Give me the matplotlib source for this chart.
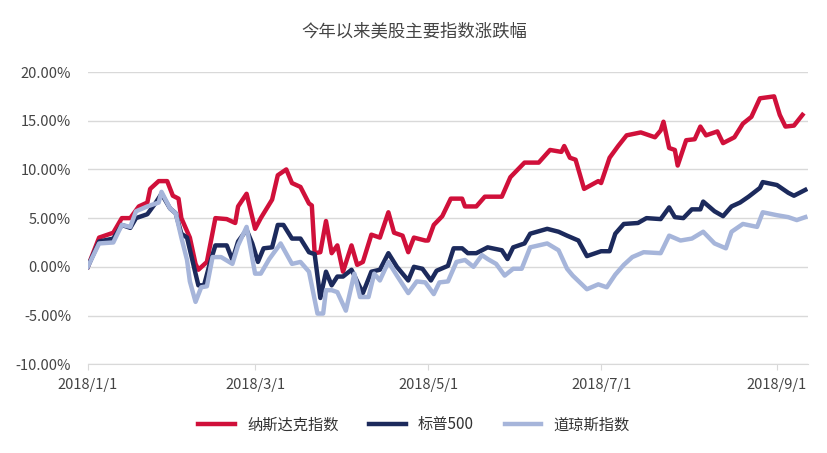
import matplotlib
matplotlib.use("Agg")
import matplotlib.pyplot as plt
import matplotlib.dates as mdates
import pandas as pd
import numpy as np

plt.rcParams["font.family"] = ["Noto Sans CJK SC", "DejaVu Sans"]

title = "今年以来美股主要指数涨跌幅"
names = ["纳斯达克指数", "标普500", "道琼斯指数"]
start = "2018-01-01"

# day offsets from 2018-01-01 and cumulative change (%)
nasdaq_days = [0,4,9,12,15,18,21,22,25,28,30,32,33,36,38,39,42,45,49,52,53,56,59,61,65,67,70,72,75,78,79,80,82,84,86,88,90,93,95,97,100,103,106,108,111,113,115,119,120,122,125,128,132,133,137,140,146,149,154,159,163,167,168,170,172,175,180,181,184,187,190,195,200,202,203,205,207,208,211,214,216,218,222,224,228,231,234,237,242,244,246,249,252]
nasdaq_vals = [0,3.0,3.5,5.0,5.0,6.2,6.6,8.0,8.8,8.8,7.3,7.0,5.0,3.0,0.3,-0.3,0.5,5.0,4.9,4.5,6.2,7.5,3.9,5.0,6.9,9.4,10.0,8.6,8.2,6.5,6.3,1.4,1.5,4.7,1.4,2.2,-0.5,2.2,0.2,0.5,3.3,3.0,5.6,3.5,3.2,1.5,3.0,2.7,2.7,4.3,5.2,7.0,7.0,6.2,6.2,7.2,7.2,9.2,10.7,10.7,12.0,11.8,12.4,11.2,11.0,8.0,8.8,8.6,11.2,12.4,13.5,13.8,13.3,14.0,14.9,12.2,12.0,10.4,13.0,13.1,14.4,13.5,13.9,12.7,13.3,14.7,15.4,17.3,17.5,15.6,14.4,14.5,15.6]

sp_days = [0,4,9,12,15,17,21,24,26,29,31,33,35,38,39,41,43,45,49,51,53,56,58,60,62,65,67,69,72,75,78,80,82,84,86,88,90,93,97,100,103,106,109,113,115,118,121,123,127,129,132,134,137,141,146,148,150,154,156,162,166,169,173,176,181,184,186,189,194,197,202,205,207,210,213,216,217,221,224,227,230,233,237,238,243,247,249,253]
sp_vals = [0,2.6,2.9,4.3,4.0,5.0,5.4,6.6,7.5,6.0,5.5,3.4,3.0,-0.7,-1.9,-1.9,0.3,2.2,2.2,0.7,2.6,3.8,2.4,0.5,1.9,2.0,4.3,4.3,2.9,2.9,1.5,1.3,-3.2,-0.5,-1.9,-1.0,-1.0,-0.3,-2.7,-0.5,-0.3,1.4,0.0,-1.4,0.0,-0.2,-1.4,-0.4,0.1,1.9,1.9,1.4,1.4,2.0,1.7,0.8,2.0,2.4,3.4,3.9,3.6,3.2,2.7,1.1,1.6,1.6,3.4,4.4,4.5,5.0,4.9,6.1,5.1,5.0,5.9,5.9,6.7,5.7,5.2,6.2,6.6,7.2,8.1,8.7,8.4,7.6,7.3,7.9]

dow_days = [0,4,9,12,15,17,21,25,26,29,31,33,35,36,38,40,42,44,47,51,53,56,59,61,64,68,72,75,78,81,83,84,86,88,91,94,96,99,101,103,106,109,113,116,119,122,124,127,130,133,136,139,141,144,147,150,153,156,162,166,169,171,176,180,183,186,189,192,196,202,205,209,213,217,221,225,227,231,236,238,243,247,250,253]
dow_vals = [0,2.4,2.5,4.3,4.1,5.7,6.2,6.6,7.7,6.0,5.5,3.0,0.7,-1.5,-3.6,-2.1,-2.0,1.0,1.0,0.3,2.2,4.1,-0.7,-0.7,0.8,2.4,0.3,0.5,-0.5,-4.8,-4.8,-2.4,-2.4,-2.6,-4.5,-0.7,-3.1,-3.1,-0.7,-1.4,0.5,-0.9,-2.7,-1.5,-1.6,-2.8,-1.6,-1.5,0.5,0.7,0.0,1.2,0.8,0.3,-0.9,-0.2,-0.2,2.0,2.4,1.7,-0.2,-0.9,-2.3,-1.8,-2.1,-0.8,0.2,1.0,1.5,1.4,3.2,2.7,2.9,3.6,2.4,1.9,3.6,4.4,4.1,5.6,5.3,5.1,4.8,5.1]

y_ticks = [-10, -5, 0, 5, 10, 15, 20]
x_ticks = ["2018-01-01", "2018-03-01", "2018-05-01", "2018-07-01", "2018-09-01"]
colors = ["#D0103A", "#1C2A5C", "#A6B5DA"]

fig = plt.figure(figsize=(8.28, 4.53), dpi=100)
ax = fig.add_axes([0.106, 0.196, 0.87, 0.645])
base = pd.Timestamp(start)
series = [(nasdaq_days, nasdaq_vals), (sp_days, sp_vals), (dow_days, dow_vals)]
for (d, v), c, n in zip(series, colors, names):
    dates = base + pd.to_timedelta(d, unit="D")
    ax.plot(dates, v, color=c, lw=3.2, label=n, solid_joinstyle="round")

ax.set_ylim(-10, 20)
ax.set_yticks(y_ticks)
ax.set_yticklabels([f"{t:.2f}%" for t in y_ticks])
ax.set_xlim(base, base + pd.Timedelta(days=254))
ax.set_xticks(pd.to_datetime(x_ticks))
ax.xaxis.set_major_formatter(mdates.DateFormatter("%Y/%-m/%-d"))
ax.grid(axis="y", color="#D9D9D9", lw=1)
ax.set_axisbelow(True)
for s in ["top", "right", "left"]:
    ax.spines[s].set_visible(False)
ax.spines["bottom"].set_color("#D9D9D9")
ax.spines["bottom"].set_position(("data", -10))
ax.tick_params(axis="y", length=0, labelsize=10.5, colors="#444444", pad=12)
ax.tick_params(axis="x", length=4, color="#D9D9D9", labelsize=10.5, labelcolor="#444444", pad=6)
fig.text(0.5, 0.93, title, ha="center", va="center", fontsize=12.5, color="#444444")
fig.legend(loc="center", bbox_to_anchor=(0.5, 0.062), ncol=3, frameon=False,
           fontsize=11, handlelength=2.4, columnspacing=2.0, labelcolor="#333333")
fig.savefig("out.png", dpi=100)
